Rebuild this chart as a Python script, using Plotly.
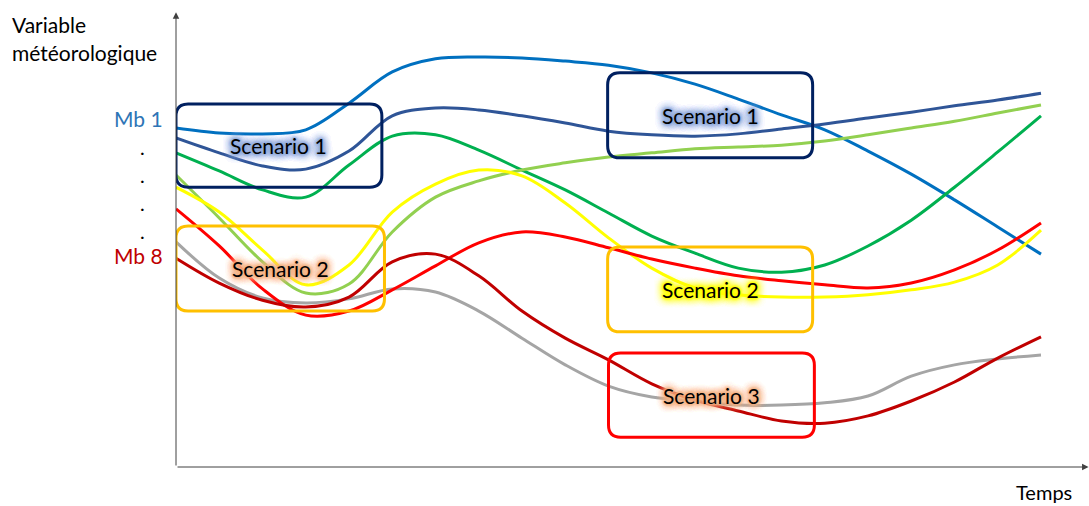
import plotly.graph_objects as go

# time steps (arbitrary units) shared by every ensemble member
temps = [0, 5, 10, 15, 20, 25, 30, 35, 40, 45, 50, 55, 60, 65, 70, 75, 80, 85, 90, 95, 100]

# meteorological variable, one list per member (arbitrary units)
mb_bleu = [75.0, 73.9, 73.7, 74.6, 80.5, 87.4, 90.3, 90.7, 90.5, 89.8, 88.9,
           87.2, 84.7, 81.4, 77.9, 74.6, 69.9, 64.8, 59.1, 53.1, 47.1]
mb_marine = [72.8, 69.5, 66.6, 65.9, 69.9, 77.7, 79.4, 79.0, 77.7, 76.1, 74.3,
             73.5, 73.2, 73.7, 74.8, 75.9, 77.2, 78.5, 79.9, 81.2, 82.7]
mb_vert = [69.5, 65.5, 61.3, 59.7, 66.8, 73.2, 73.5, 70.1, 65.7, 61.3, 56.2,
           51.1, 47.3, 44.0, 43.1, 44.7, 48.9, 54.6, 61.9, 69.7, 77.7]
mb_jaune = [61.9, 56.4, 48.0, 40.3, 44.7, 56.4, 62.6, 65.7, 64.4, 58.4, 50.7,
            44.0, 39.6, 38.1, 37.6, 37.6, 38.1, 39.2, 40.9, 44.7, 52.4]
mb_vert_clair = [64.6, 55.1, 45.4, 38.5, 40.5, 52.0, 59.7, 63.3, 65.7, 67.3, 68.6,
                 69.5, 70.4, 70.8, 71.2, 72.1, 73.5, 75.0, 76.5, 78.3, 80.1]
mb_rouge = [57.1, 48.9, 39.4, 33.6, 34.5, 39.2, 44.5, 49.6, 52.0, 50.9, 48.5,
            46.0, 44.0, 42.3, 41.2, 40.3, 39.6, 40.7, 43.6, 48.0, 54.0]
mb_gris = [49.8, 41.8, 37.4, 36.3, 37.2, 39.4, 38.7, 34.5, 28.5, 22.6, 17.9,
           15.5, 14.6, 13.7, 13.7, 14.2, 15.7, 20.1, 22.6, 23.9, 24.8]
mb_rouge_fonce = [46.2, 40.7, 36.9, 35.4, 37.6, 45.4, 47.1, 42.3, 34.5, 28.5, 23.7,
                  18.4, 14.8, 12.4, 10.2, 9.7, 11.3, 14.6, 18.8, 24.1, 28.8]

membres = [
    (mb_bleu, '#0070C0'),
    (mb_marine, '#2F5597'),
    (mb_vert, '#00B050'),
    (mb_vert_clair, '#92D050'),
    (mb_jaune, '#FFFF00'),
    (mb_gris, '#A5A5A5'),
    (mb_rouge, '#FF0000'),
    (mb_rouge_fonce, '#C00000'),
]

# scenario boxes: (label, t0, t1, v0, v1, border colour, glow colour)
scenarios = [
    ('Scenario 1', 0.0, 23.8, 61.9, 80.3, '#002060', '#8FAADC'),
    ('Scenario 2', 0.0, 24.1, 34.5, 53.3, '#FFC000', '#F4B183'),
    ('Scenario 1', 49.9, 73.6, 68.4, 87.2, '#002060', '#8FAADC'),
    ('Scenario 2', 49.9, 73.6, 29.9, 48.7, '#FFC000', '#FFFF00'),
    ('Scenario 3', 50.0, 73.8, 6.6, 25.2, '#FF0000', '#F4B183'),
]

W, H = 1089, 506
ML, MB = 176, 39
PX_T = 8.65   # pixels per time unit
PX_V = 4.52   # pixels per value unit

FONT = 'Lato'


def px(t):
    # time units -> paper fraction (for labels sitting in the margins)
    return t * PX_T / (W - ML)


def py(v):
    return v * PX_V / (H - MB)


fig = go.Figure()

for vals, col in membres:
    fig.add_trace(go.Scatter(x=temps, y=vals, mode='lines',
                             line=dict(color=col, width=3, shape='spline', smoothing=1.0),
                             hoverinfo='skip', showlegend=False))


def rounded_box(t0, t1, v0, v1, rt=1.4, rv=2.7):
    return (f'M {t0+rt},{v0} L {t1-rt},{v0} Q {t1},{v0} {t1},{v0+rv} '
            f'L {t1},{v1-rv} Q {t1},{v1} {t1-rt},{v1} '
            f'L {t0+rt},{v1} Q {t0},{v1} {t0},{v1-rv} '
            f'L {t0},{v0+rv} Q {t0},{v0} {t0+rt},{v0} Z')


shapes = []
annotations = []
for label, t0, t1, v0, v1, col, glow in scenarios:
    shapes.append(dict(type='path', path=rounded_box(t0, t1, v0, v1),
                       xref='x', yref='y', line=dict(color=col, width=3)))
    glow_css = ', '.join([f'0 0 3px {glow}'] * 4 + [f'0 0 8px {glow}'] * 6)
    annotations.append(dict(x=(t0 + t1) / 2, y=(v0 + v1) / 2, text=label,
                            showarrow=False, xanchor='center', yanchor='middle',
                            font=dict(family=FONT, size=21, color='#000000',
                                      shadow=glow_css)))

# axes drawn as arrows
annotations.append(dict(x=0, y=100.6, ax=0, ay=0, xref='x', yref='y', axref='x', ayref='y',
                        text='', showarrow=True, arrowhead=2, arrowsize=1.3,
                        arrowwidth=1, arrowcolor='#404040'))
annotations.append(dict(x=105.5, y=0, ax=0, ay=0, xref='x', yref='y', axref='x', ayref='y',
                        text='', showarrow=True, arrowhead=2, arrowsize=1.3,
                        arrowwidth=1, arrowcolor='#404040'))

# axis titles and member labels (in the margins -> paper coordinates)
side = [
    ('Variable', -19.2, 97.8, 'left', 'middle', '#000000', 21),
    ('météorologique', -19.2, 91.6, 'left', 'middle', '#000000', 21),
    ('Mb 1', -1.3, 77.2, 'right', 'middle', '#2E75B6', 21),
    ('Mb 8', -1.3, 46.9, 'right', 'middle', '#C00000', 21),
    ('Temps', 100.3, -MB / PX_V, 'center', 'bottom', '#000000', 20),
]
for txt, t, v, xa, ya, col, size in side:
    annotations.append(dict(x=px(t), y=py(v), xref='paper', yref='paper', text=txt,
                            xanchor=xa, yanchor=ya, showarrow=False,
                            font=dict(family=FONT, size=size, color=col)))
for v in [69.7, 63.5, 57.3, 51.1]:
    annotations.append(dict(x=px(-3.9), y=py(v), xref='paper', yref='paper', text='.',
                            xanchor='center', yanchor='middle', yshift=5, showarrow=False,
                            font=dict(family=FONT, size=20, color='#000000')))

fig.update_layout(
    width=W, height=H,
    margin=dict(l=ML, r=0, t=0, b=MB),
    paper_bgcolor='white', plot_bgcolor='white',
    xaxis=dict(range=[0, (W - ML) / PX_T], visible=False, fixedrange=True),
    yaxis=dict(range=[0, (H - MB) / PX_V], visible=False, fixedrange=True),
    shapes=shapes, annotations=annotations,
    showlegend=False,
)

fig.write_html("out.html", config={'displayModeBar': False},
               post_script="document.body.style.margin = '0';")
